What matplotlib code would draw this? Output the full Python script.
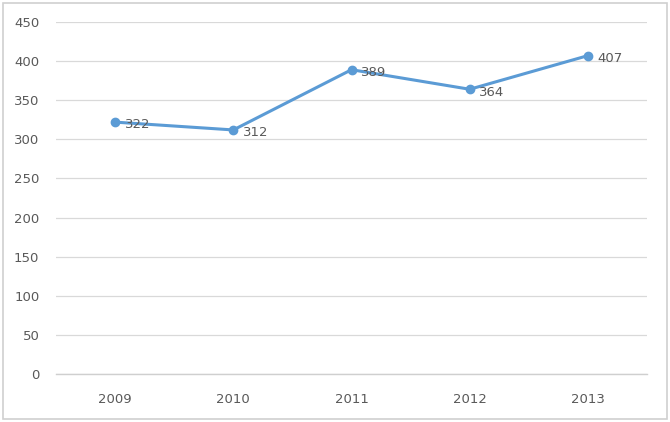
import matplotlib
matplotlib.use('Agg')
from matplotlib import pyplot as plt
from matplotlib.patches import Rectangle

years = ['2009', '2010', '2011', '2012', '2013']
values = [322, 312, 389, 364, 407]
y_ticks = list(range(0, 451, 50))

line_color = '#5B9BD5'
text_color = '#595959'
grid_color = '#D9D9D9'

fig = plt.figure(figsize=(6.70, 4.22), dpi=100)
ax = fig.add_axes([0.0836, 0.1137, 0.8821, 0.8342])

xs = list(range(len(years)))
ax.plot(xs, values, color=line_color, linewidth=2.2, marker='o', markersize=6,
        markerfacecolor=line_color, markeredgecolor=line_color, zorder=3)

for x, v in zip(xs, values):
    ax.annotate(str(v), (x, v), xytext=(7, -2), textcoords='offset points',
                ha='left', va='center', fontsize=9.5, color=text_color, zorder=4)

ax.set_xlim(-0.5, len(years) - 0.5)
ax.set_ylim(0, 450)
ax.set_xticks(xs)
ax.set_xticklabels(years)
ax.set_yticks(y_ticks)
ax.tick_params(axis='both', length=0, labelsize=9.5, labelcolor=text_color)
ax.tick_params(axis='x', pad=14)
ax.tick_params(axis='y', pad=12)
ax.grid(axis='y', color=grid_color, linewidth=0.9)
ax.set_axisbelow(True)

for spine in ax.spines.values():
    spine.set_visible(False)
ax.axhline(0, color='#CFCFCF', linewidth=1.0, zorder=1, clip_on=False)

fig.patches.append(Rectangle((0.004, 0.006), 0.992, 0.988, transform=fig.transFigure,
                             fill=False, edgecolor='#D0D0D0', linewidth=1.2))

plt.savefig('out.png', dpi=100)
plt.close()
